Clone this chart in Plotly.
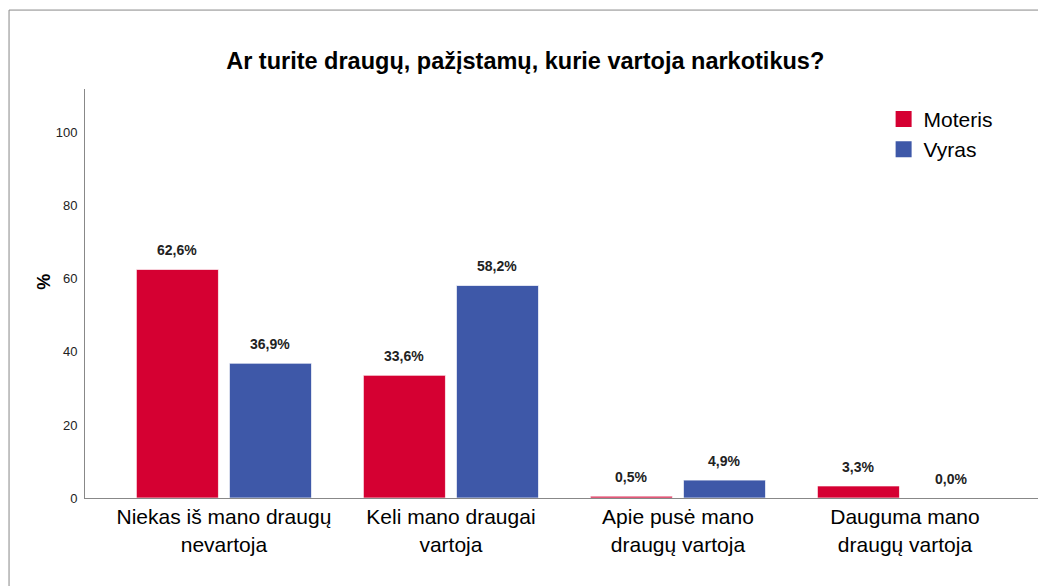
import plotly.graph_objects as go

categories = [
    "Niekas iš mano draugų<br>nevartoja",
    "Keli mano draugai<br>vartoja",
    "Apie pusė mano<br>draugų vartoja",
    "Dauguma mano<br>draugų vartoja",
]
moteris = [62.6, 33.6, 0.5, 3.3]
vyras = [36.9, 58.2, 4.9, 0.0]
y_ticks = [0, 20, 40, 60, 80, 100]

red = "#D50032"
blue = "#3E58A8"

fig = go.Figure()
fig.add_trace(go.Bar(x=categories, y=moteris, name="Moteris", marker_color=red,
                     marker_line=dict(color="rgba(255,255,255,0.7)", width=1),
                     showlegend=False))
fig.add_trace(go.Bar(x=categories, y=vyras, name="Vyras", marker_color=blue,
                     marker_line=dict(color="rgba(255,255,255,0.7)", width=1),
                     showlegend=False))

# bigger legend squares than the bar legend gives
for name, col in [("Moteris", red), ("Vyras", blue)]:
    fig.add_trace(go.Scatter(x=[None], y=[None], mode="markers", name=name,
                             legendgroup=name,
                             marker=dict(symbol="square", size=16, color=col)))

# value labels above each bar
for vals, shift in [(moteris, -46.5), (vyras, 46.5)]:
    for cat, v in zip(categories, vals):
        fig.add_annotation(x=cat, y=v, text=f"{v:.1f}%".replace(".", ","),
                           showarrow=False, xshift=shift, yshift=19,
                           yanchor="middle",
                           font=dict(family="Liberation Sans", size=14,
                                     color="#222222", weight="bold"))

# y axis title, sits a little above the middle in the original
fig.add_annotation(xref="paper", yref="paper", x=-0.056, y=0.528,
                   text="<b>%</b>", textangle=-90, showarrow=False,
                   font=dict(size=18, color="black"))

# outer frame
fig.add_shape(type="rect", xref="paper", yref="paper",
              x0=-0.0797, x1=1.1, y0=-0.4, y1=1.193,
              line=dict(color="#888888", width=1))

fig.update_layout(
    width=1038, height=586,
    margin=dict(l=85, r=0, t=89, b=88),
    paper_bgcolor="white", plot_bgcolor="white",
    barmode="group", bargap=0.18, bargroupgap=0.118,
    font=dict(family="Liberation Sans", color="black"),
    title=dict(text="<b>Ar turite draugų, pažįstamų, kurie vartoja narkotikus?</b>",
               x=0.506, xanchor="center", y=0.896, yanchor="middle",
               font=dict(size=23.5, color="black")),
    legend=dict(x=0.838, y=0.976, xanchor="left", yanchor="top",
                font=dict(size=21), tracegroupgap=0,
                bgcolor="rgba(0,0,0,0)", itemwidth=30),
    xaxis=dict(range=[-0.612, 3.586], showline=True, linecolor="#888888",
               linewidth=1, ticks="", showgrid=False,
               tickfont=dict(size=21, color="black")),
    yaxis=dict(range=[0, 112], tickvals=y_ticks, showline=True,
               linecolor="#888888", linewidth=1, ticks="", showgrid=False,
               zeroline=False, ticklabelstandoff=4,
               tickfont=dict(size=13, color="#222222")),
)

fig.write_html("out.html", config={"displayModeBar": False},
               post_script="document.body.style.margin='0';"
                           "document.body.style.overflow='hidden';")
